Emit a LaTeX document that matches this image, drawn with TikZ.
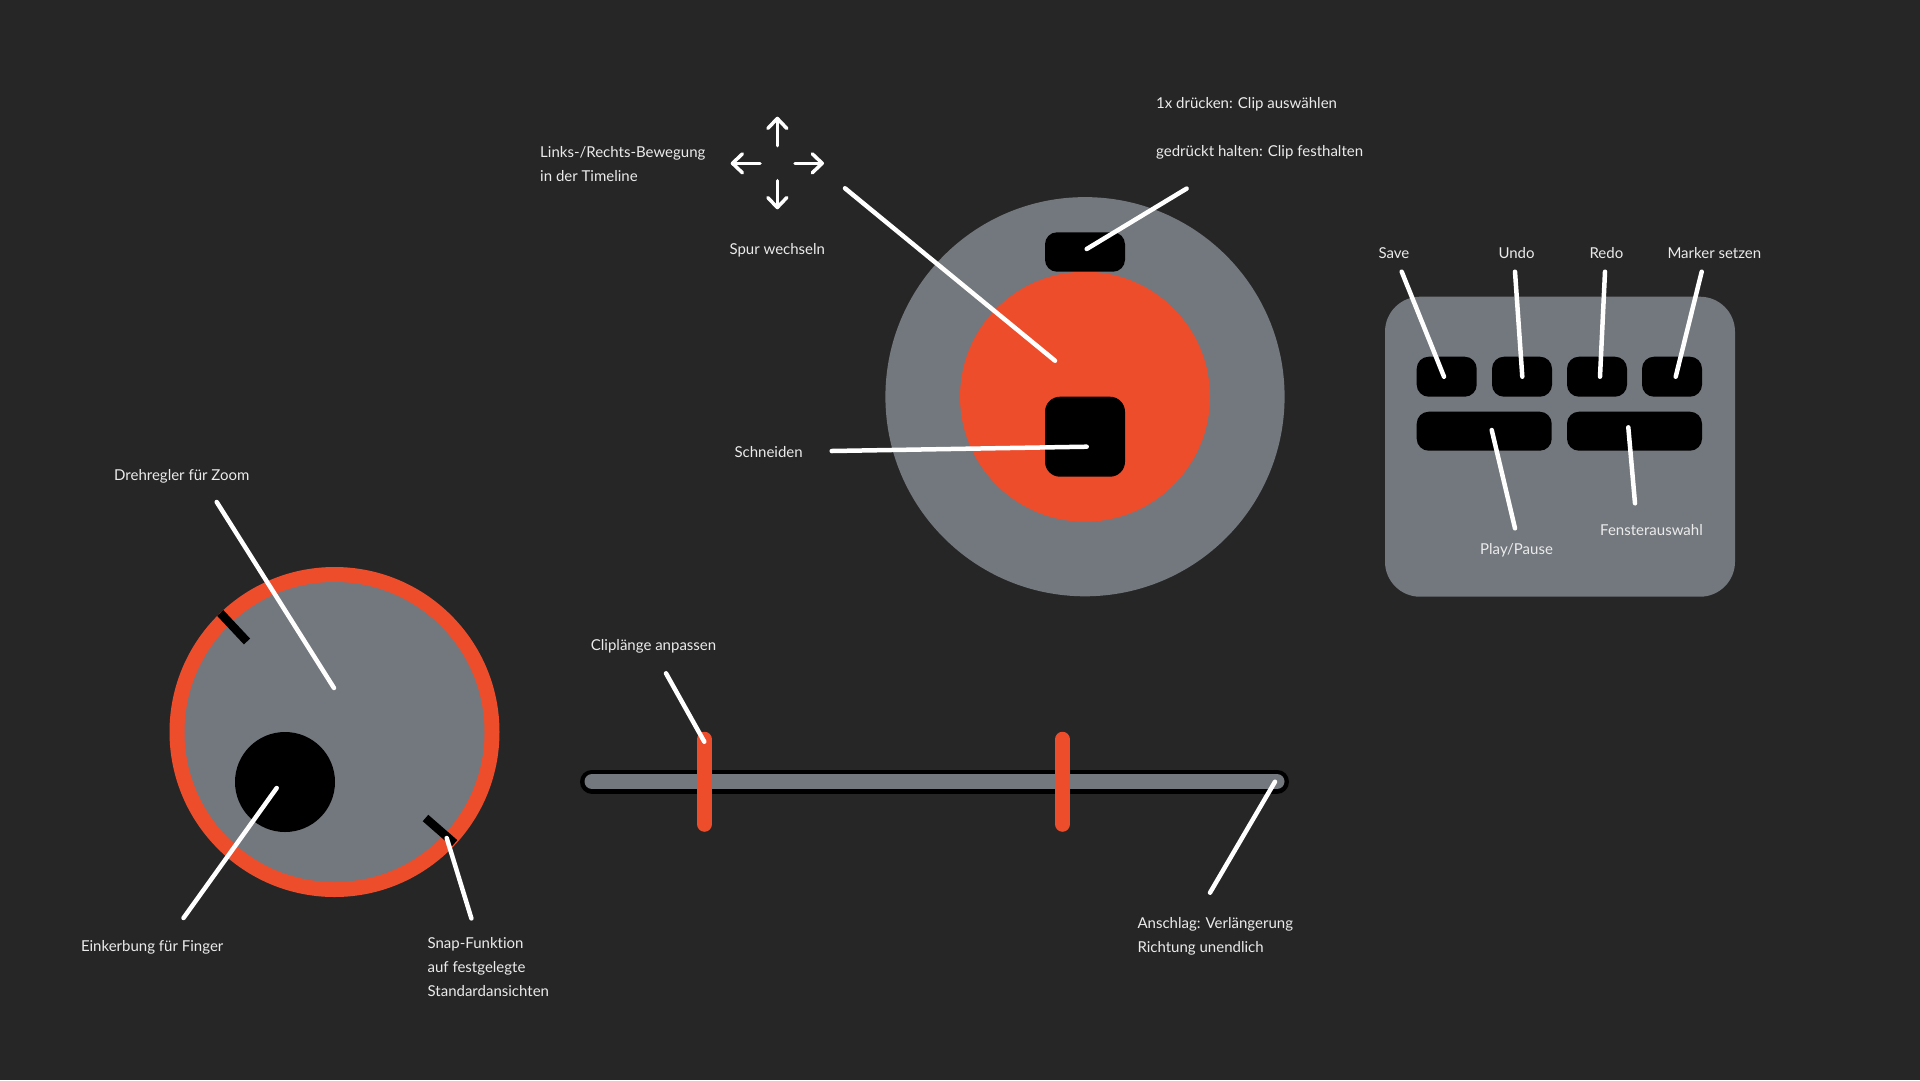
\documentclass[tikz,border=0pt]{standalone}
\usepackage{fontspec}
\setmainfont{Lato}[Ligatures=NoCommon]
\usetikzlibrary{arrows.meta}
\definecolor{bgc}{HTML}{262626}
\definecolor{knobgray}{HTML}{72787D}
\definecolor{accent}{HTML}{EE4D2C}
\definecolor{txt}{HTML}{EBEBEB}
\begin{document}
\begin{tikzpicture}[x=1pt,y=-1pt,
  lbl/.style={text=txt, font=\fontsize{15}{24}\selectfont, inner sep=0pt, anchor=west, align=left, yshift=-1pt},
  leader/.style={draw=white, line width=4.5pt, line cap=round},
  crossarrow/.style={draw=white, line width=3.5pt, line cap=round, -{Straight Barb[length=10pt,width=19pt,round]}},
  btn/.style={fill=black, rounded corners=12pt, inner sep=0pt, minimum width=60pt, minimum height=40pt},
  widebtn/.style={btn, minimum width=135pt, minimum height=39pt},
  disc/.style={circle, inner sep=0pt},
  notch/.style={draw=black, line width=8.5pt},
  trackout/.style={draw=black, line width=24pt, line cap=round},
  trackin/.style={draw=knobgray, line width=15pt, line cap=round},
  handle/.style={draw=accent, line width=15.5pt, line cap=round}]
\useasboundingbox (0,0) rectangle (1920,1080);
\fill[bgc] (0,0) rectangle (1920,1080);

% ---------- big knob ----------
\node[disc, fill=knobgray, minimum size=399.2pt] (knob) at (1085,396.7) {};
\node[disc, fill=accent, minimum size=250pt] (knobcore) at (1085,396.7) {};
\node[btn, minimum width=80pt, minimum height=39.4pt] (clipbtn) at (1085,252) {};
\node[btn, rounded corners=15pt, minimum width=80pt, minimum height=80pt] (cutbtn) at (1085,436.7) {};

% cross arrows
\coordinate (upA) at (777.3,145.7);   \coordinate (upB) at (777.3,116.7);
\coordinate (leA) at (760,163.3);     \coordinate (leB) at (730.7,163.3);
\coordinate (riA) at (795,163.3);     \coordinate (riB) at (824,163.3);
\coordinate (doA) at (777.3,180.7);   \coordinate (doB) at (777.3,209.3);
\draw[crossarrow] (upA) -- (upB);
\draw[crossarrow] (leA) -- (leB);
\draw[crossarrow] (riA) -- (riB);
\draw[crossarrow] (doA) -- (doB);

% labels top
\node[lbl] (lLinks) at (540,163.4) {Links-/Rechts-Bewegung\\in der Timeline};
\node[lbl] (lSpur) at (729.3,249) {Spur wechseln};
\node[lbl] (lSchn) at (734.3,450.7) {Schneiden};
\node[lbl] (l1x) at (1156,102.9) {1x drücken: Clip auswählen};
\node[lbl] (lHold) at (1156,151.8) {gedrückt halten: Clip festhalten};

\coordinate (linksS) at (845,188.3);   \coordinate (linksE) at (1055,360.7);
\coordinate (schnS) at (831.7,451);    \coordinate (schnE) at (1086.7,446.7);
\coordinate (holdS) at (1186.6,188.6); \coordinate (holdE) at (1086.7,249);
\draw[leader] (linksS) -- (linksE);
\draw[leader] (schnS) -- (schnE);
\draw[leader] (holdS) -- (holdE);

% ---------- right panel ----------
\node[fill=knobgray, rounded corners=35pt, inner sep=0pt, minimum width=350pt, minimum height=300pt] (panel) at (1560,446.7) {};
\node[btn] (bSave) at (1446.7,376.7) {};
\node[btn] (bUndo) at (1522,376.7) {};
\node[btn] (bRedo) at (1597,376.7) {};
\node[btn] (bMark) at (1672,376.7) {};
\node[widebtn] (bPlay) at (1484.2,431.2) {};
\node[widebtn] (bWin) at (1634.5,431.2) {};

\node[lbl] (lSave) at (1378.3,252) {Save};
\node[lbl] (lUndo) at (1498.3,252) {Undo};
\node[lbl] (lRedo) at (1589.3,252) {Redo};
\node[lbl] (lMark) at (1667.3,252) {Marker setzen};
\node[lbl] (lPlay) at (1480,549.3) {Play/Pause};
\node[lbl] (lWin) at (1600,529) {Fensterauswahl};

\coordinate (saveS) at (1401.7,271.7); \coordinate (saveE) at (1444,376.7);
\coordinate (undoS) at (1515,271.7);   \coordinate (undoE) at (1522.3,376.7);
\coordinate (redoS) at (1605,271.7);   \coordinate (redoE) at (1600,376.7);
\coordinate (markS) at (1701.7,271.7); \coordinate (markE) at (1675.7,376.7);
\coordinate (playS) at (1515,528.3);   \coordinate (playE) at (1491.7,430);
\coordinate (winS) at (1635,503.3);    \coordinate (winE) at (1628.3,427.3);
\draw[leader] (saveS) -- (saveE);
\draw[leader] (undoS) -- (undoE);
\draw[leader] (redoS) -- (redoE);
\draw[leader] (markS) -- (markE);
\draw[leader] (playS) -- (playE);
\draw[leader] (winS) -- (winE);

% ---------- zoom dial ----------
\node[disc, fill=accent, minimum size=330pt] (dial) at (334.5,732) {};
\node[disc, fill=knobgray, minimum size=300pt] (dialface) at (334.5,732) {};
\node[disc, fill=black, minimum size=100pt] (finger) at (285,782) {};
\coordinate (n1a) at (220.3,613);  \coordinate (n1b) at (247,641.5);
\coordinate (n2a) at (425.5,818);  \coordinate (n2b) at (454.5,843.3);
\draw[notch] (n1a) -- (n1b);
\draw[notch] (n2a) -- (n2b);

\node[lbl] (lDreh) at (114,475) {Drehregler für Zoom};
\node[lbl] (lEink) at (80.8,946.5) {Einkerbung für Finger};
\node[lbl] (lSnap) at (427.4,965.6) {Snap-Funktion\\auf festgelegte\\Standardansichten};

\coordinate (drehS) at (216.7,502);   \coordinate (drehE) at (334,688);
\coordinate (einkS) at (183.5,918);   \coordinate (einkE) at (276.7,788);
\coordinate (snapS) at (471.4,918.4); \coordinate (snapE) at (446.7,838);
\draw[leader] (drehS) -- (drehE);
\draw[leader] (einkS) -- (einkE);
\draw[leader] (snapS) -- (snapE);

% ---------- slider ----------
\coordinate (trackL) at (592,781.5);  \coordinate (trackR) at (1277,781.5);
\draw[trackout] (trackL) -- (trackR);
\draw[trackin] (trackL) -- (trackR);
\coordinate (h1T) at (704.5,739.5);   \coordinate (h1B) at (704.5,824);
\coordinate (h2T) at (1062.5,739.5);  \coordinate (h2B) at (1062.5,824);
\draw[handle] (h1T) -- (h1B);
\draw[handle] (h2T) -- (h2B);

\node[lbl] (lClip) at (590.7,645) {Cliplänge anpassen};
\node[lbl] (lAnsch) at (1137.3,935.2) {Anschlag: Verlängerung\\Richtung unendlich};

\coordinate (clipS) at (666,673.3);   \coordinate (clipE) at (704.3,741.7);
\coordinate (anschS) at (1210,892.7); \coordinate (anschE) at (1275,781.7);
\draw[leader] (clipS) -- (clipE);
\draw[leader] (anschS) -- (anschE);
\end{tikzpicture}
\end{document}
